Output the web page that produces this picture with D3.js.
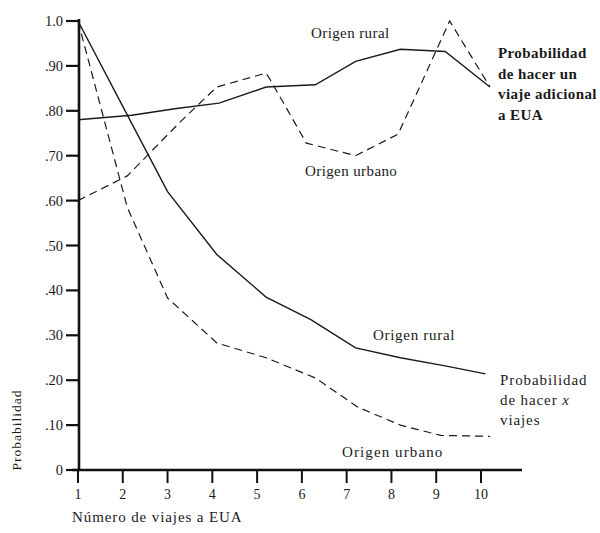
<!DOCTYPE html>
<html>
<head>
<meta charset="utf-8">
<script src="https://cdn.jsdelivr.net/npm/d3@7"></script>
<style>
  body { margin: 0; background: #fff; }
  text { font-family: "Liberation Serif", "DejaVu Serif", serif; fill: #1a1a1a; }
</style>
</head>
<body>
<div id="chart"></div>
<script>
const w = 600;
const h = 533;

// x ticks and y ticks as printed
const xTicks = [1, 2, 3, 4, 5, 6, 7, 8, 9, 10];
const yTicks = [0, 0.1, 0.2, 0.3, 0.4, 0.5, 0.6, 0.7, 0.8, 0.9, 1.0];
const yTickLabels = ["0", ".10", ".20", ".30", ".40", ".50", ".60", ".70", ".80", ".90", "1.0"];

// Probabilidad de hacer un viaje adicional a EUA
const adicRuralX = [1, 2.2, 3.2, 4.15, 5.2, 6.3, 7.2, 8.2, 9.2, 10.2];
const adicRuralY = [0.78, 0.79, 0.805, 0.817, 0.853, 0.858, 0.91, 0.937, 0.932, 0.853];
const adicUrbanX = [1, 2.1, 3.3, 4.1, 5.2, 5.3, 6.1, 7.2, 8.15, 9.3, 10.2];
const adicUrbanY = [0.60, 0.655, 0.777, 0.853, 0.884, 0.868, 0.728, 0.70, 0.748, 1.0, 0.853];

// Probabilidad de hacer x viajes
const xRuralX = [1, 2, 3.0, 4.1, 5.2, 6.2, 7.2, 8.2, 9.2, 10.1];
const xRuralY = [1.0, 0.81, 0.62, 0.48, 0.385, 0.335, 0.272, 0.25, 0.232, 0.214];
const xUrbanX = [1, 2.1, 3.0, 4.1, 5.2, 6.3, 7.25, 8.2, 9.1, 10.2];
const xUrbanY = [1.0, 0.585, 0.383, 0.283, 0.25, 0.205, 0.14, 0.10, 0.077, 0.075];

var svg = d3.select("#chart")
  .append("svg")
    .attr("width", w)
    .attr("height", h);

var x = d3.scaleLinear().domain([1, 10]).range([78, 481]);
var y = d3.scaleLinear().domain([0, 1]).range([470, 21]);

// axes
svg.append("line")
  .attr("x1", 79).attr("x2", 79)
  .attr("y1", 19).attr("y2", 471)
  .attr("stroke", "#111").attr("stroke-width", 2.6);
svg.append("line")
  .attr("x1", 72).attr("x2", 522)
  .attr("y1", 470).attr("y2", 470)
  .attr("stroke", "#111").attr("stroke-width", 2.4);

var yAxis = svg.append("g").attr("class", "y-axis");
yAxis.selectAll("line")
  .data(yTicks)
  .enter()
  .append("line")
    .attr("x1", 66).attr("x2", 80)
    .attr("y1", d => y(d)).attr("y2", d => y(d))
    .attr("stroke", "#111").attr("stroke-width", 2.2);
yAxis.selectAll("text")
  .data(yTicks)
  .enter()
  .append("text")
    .attr("x", 63)
    .attr("y", d => y(d) + 5)
    .attr("text-anchor", "end")
    .attr("font-size", "14.5px")
    .text((d, i) => yTickLabels[i]);

var xAxis = svg.append("g").attr("class", "x-axis");
xAxis.selectAll("line")
  .data(xTicks)
  .enter()
  .append("line")
    .attr("x1", d => x(d)).attr("x2", d => x(d))
    .attr("y1", 469).attr("y2", 483)
    .attr("stroke", "#111").attr("stroke-width", 2);
xAxis.selectAll("text")
  .data(xTicks)
  .enter()
  .append("text")
    .attr("x", d => x(d))
    .attr("y", 499)
    .attr("text-anchor", "middle")
    .attr("font-size", "14px")
    .text(d => d);

// curves
var line = d3.line().x(d => x(d[0])).y(d => y(d[1]));
function drawCurve(xs, ys, dashed) {
  svg.append("path")
    .datum(xs.map((v, i) => [v, ys[i]]))
    .attr("d", line)
    .attr("fill", "none")
    .attr("stroke", "#1a1a1a")
    .attr("stroke-width", dashed ? 1.2 : 1.4)
    .attr("stroke-dasharray", dashed ? "8,5" : null);
}
drawCurve(adicRuralX, adicRuralY, false);
drawCurve(adicUrbanX, adicUrbanY, true);
drawCurve(xRuralX, xRuralY, false);
drawCurve(xUrbanX, xUrbanY, true);

// annotations
function label(tx, ty, str, size, weight, spacing) {
  return svg.append("text")
    .attr("x", tx).attr("y", ty)
    .attr("font-size", size)
    .attr("font-weight", weight || "normal")
    .attr("letter-spacing", spacing || "0.4px")
    .text(str);
}
label(311, 38, "Origen rural", "15px");
label(305, 176, "Origen urbano", "15px");
label(373, 340, "Origen rural", "15px", "normal", "0.7px");
label(342, 457, "Origen urbano", "15px", "normal", "1.1px");

["Probabilidad", "de hacer un", "viaje adicional", "a EUA"].forEach((s, i) => {
  label(498, 58 + i * 20.5, s, "15px", "bold");
});
label(500, 385, "Probabilidad", "15px", "normal", "0.9px");
var t2 = label(500, 405, "de hacer ", "15px", "normal", "0.9px");
t2.append("tspan").attr("font-style", "italic").text("x");
label(500, 425, "viajes", "15px", "normal", "0.9px");

svg.append("text")
  .attr("transform", "translate(21,430) rotate(-90)")
  .attr("text-anchor", "middle")
  .attr("font-size", "13.5px")
  .attr("letter-spacing", "1px")
  .text("Probabilidad");

label(72, 522, "Número de viajes a EUA", "15px", "normal", "0.9px");
</script>
</body>
</html>
